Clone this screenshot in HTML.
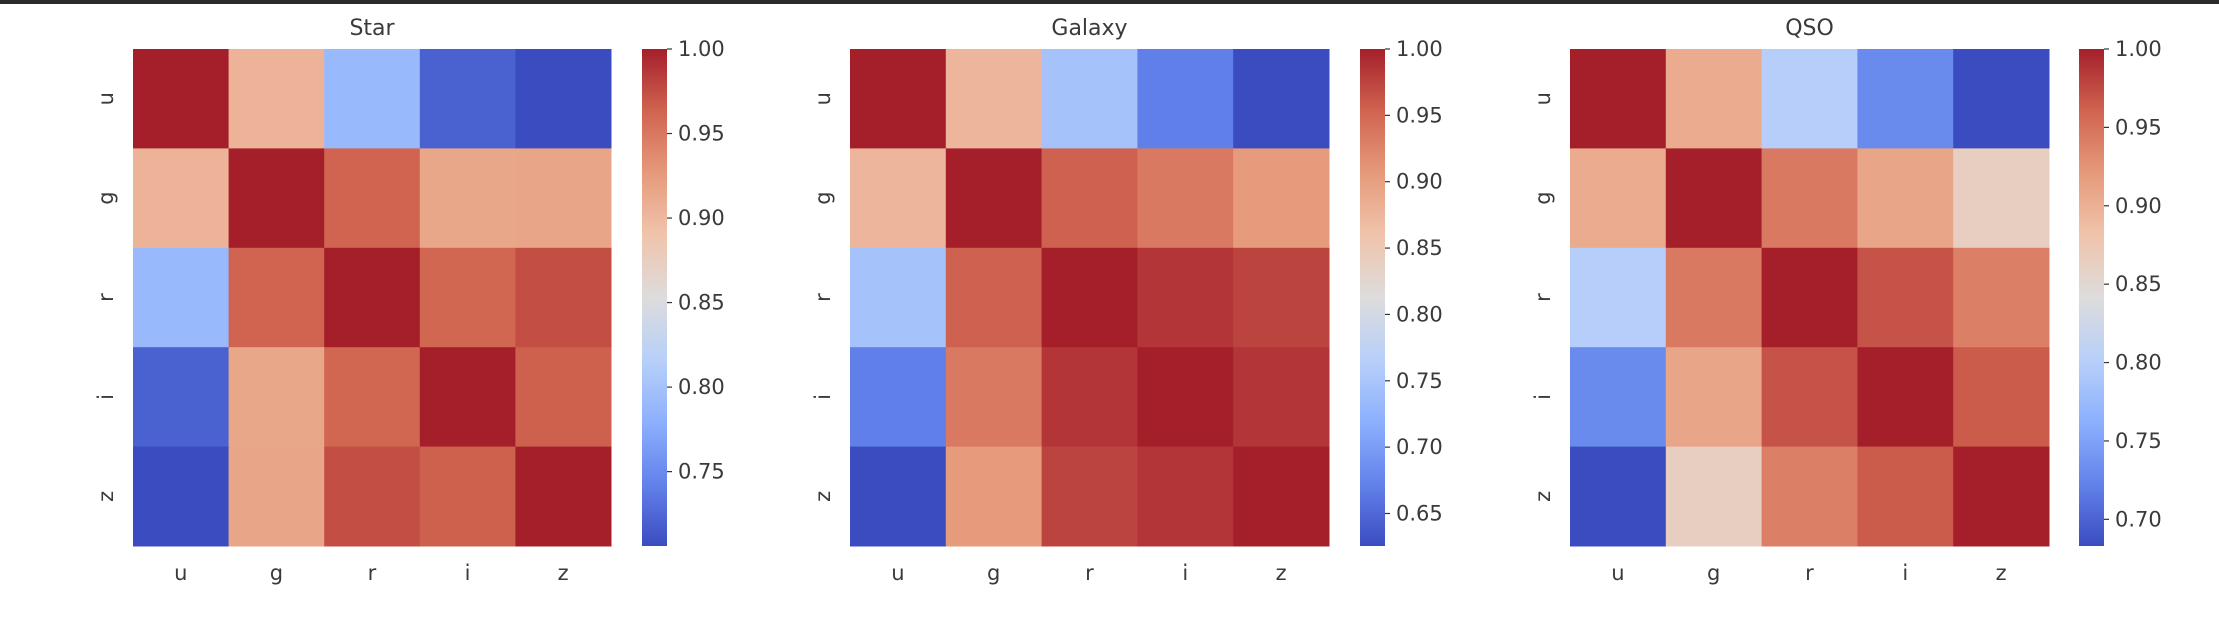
<!DOCTYPE html>
<html><head><meta charset="utf-8"><style>
body{margin:0;background:#fff;width:2219px;height:633px;overflow:hidden}
svg text{font-family:"DejaVu Sans","Liberation Sans",sans-serif;fill:#3a3a3a}
</style></head><body>
<div style="position:absolute;left:0;top:0;width:2219px;height:4px;background:#2b2b2b"></div>
<svg id="fig" width="2219" height="633" style="position:absolute;left:0;top:0">
<defs><linearGradient id="cw" x1="0" y1="1" x2="0" y2="0">
<stop offset="0" stop-color="#3b4cc0"/><stop offset="0.125" stop-color="#6282ea"/><stop offset="0.25" stop-color="#8db0fe"/><stop offset="0.375" stop-color="#b8d0f9"/><stop offset="0.5" stop-color="#dddcdc"/><stop offset="0.625" stop-color="#f0c4ac"/><stop offset="0.75" stop-color="#e69a7b"/><stop offset="0.875" stop-color="#d06450"/><stop offset="1" stop-color="#a51f2b"/>
</linearGradient></defs>
</svg>
<script>
const bands = ["u","g","r","i","z"];
const titles = ["Star","Galaxy","QSO"];
const starValues = [
 [1,0.905,0.79,0.72,0.706],
 [0.905,1,0.963,0.915,0.917],
 [0.79,0.963,1,0.962,0.975],
 [0.72,0.915,0.962,1,0.965],
 [0.706,0.917,0.975,0.965,1]];
const galaxyValues = [
 [1,0.875,0.745,0.67,0.6255],
 [0.875,1,0.955,0.935,0.905],
 [0.745,0.955,1,0.985,0.975],
 [0.67,0.935,0.985,1,0.985],
 [0.6255,0.905,0.975,0.985,1]];
const qsoValues = [
 [1,0.905,0.80,0.73,0.683],
 [0.905,1,0.945,0.91,0.865],
 [0.80,0.945,1,0.97,0.94],
 [0.73,0.91,0.97,1,0.965],
 [0.683,0.865,0.94,0.965,1]];
const starTicks = [0.75,0.80,0.85,0.90,0.95,1.00];
const galaxyTicks = [0.65,0.70,0.75,0.80,0.85,0.90,0.95,1.00];
const qsoTicks = [0.70,0.75,0.80,0.85,0.90,0.95,1.00];

const cmap=[[59,76,192],[98,130,234],[141,176,254],[184,208,249],[221,220,220],[240,196,172],[230,154,123],[208,100,80],[165,31,43]];
function color(t){t=Math.max(0,Math.min(1,t));const p=t*8,i=Math.min(7,Math.floor(p)),f=p-i;const a=cmap[i],b=cmap[i+1];return `rgb(${a.map((v,k)=>Math.round(v+(b[k]-v)*f)).join(',')})`;}
const NS="http://www.w3.org/2000/svg";
const svg=document.getElementById('fig');
function mk(tag,attrs,parent){const e=document.createElementNS(NS,tag);for(const k in attrs)e.setAttribute(k,attrs[k]);(parent||svg).appendChild(e);return e;}
const panels=[{x0:133,x1:611,cb:642,vals:starValues,ticks:starTicks,name:"star"},
 {x0:850,x1:1329,cb:1360,vals:galaxyValues,ticks:galaxyTicks,name:"galaxy"},
 {x0:1570,x1:2049,cb:2079,vals:qsoValues,ticks:qsoTicks,name:"qso"}];
const y0=49,y1=546,cbw=25;
panels.forEach((p,pi)=>{
 const g=mk('g',{});
 
 
 let vmin=Infinity,vmax=-Infinity;p.vals.flat().forEach(v=>{vmin=Math.min(vmin,v);vmax=Math.max(vmax,v);});
 const cw=(p.x1-p.x0)/bands.length,ch=(y1-y0)/bands.length;
 p.vals.forEach((row,r)=>row.forEach((v,c)=>{
  const rc=mk('rect',{x:p.x0+c*cw,y:y0+r*ch,width:cw+0.5,height:ch+0.5,fill:color((v-vmin)/(vmax-vmin))},g);
  
  
 }));
 const t=mk('text',{x:(p.x0+p.x1)/2,y:35,'text-anchor':'middle','font-size':22});
 t.textContent=titles[pi];
 
 
 bands.forEach((b,i)=>{
  const xl=mk('text',{x:p.x0+(i+0.5)*cw,y:580,'text-anchor':'middle','font-size':21});
  xl.textContent=b;
  
  
  const yc=y0+(i+0.5)*ch,xx=p.x0-27;
  const yl=mk('text',{x:xx,y:yc,'text-anchor':'middle','dominant-baseline':'central','font-size':21,transform:`rotate(-90 ${xx} ${yc})`});
  yl.textContent=b;
  
  
 });
 const cb=mk('rect',{x:p.cb,y:y0,width:cbw,height:y1-y0,fill:'url(#cw)'});
 
 
 p.ticks.forEach(tv=>{
  const ty=y1-(tv-vmin)/(vmax-vmin)*(y1-y0);
  mk('line',{x1:p.cb+cbw,x2:p.cb+cbw+5,y1:ty,y2:ty,stroke:'#333','stroke-width':1.2});
  const tl=mk('text',{x:p.cb+cbw+11,y:ty,'dominant-baseline':'central','font-size':21});
  tl.textContent=tv.toFixed(2);
  
  
 });
});
</script>
</body></html>
